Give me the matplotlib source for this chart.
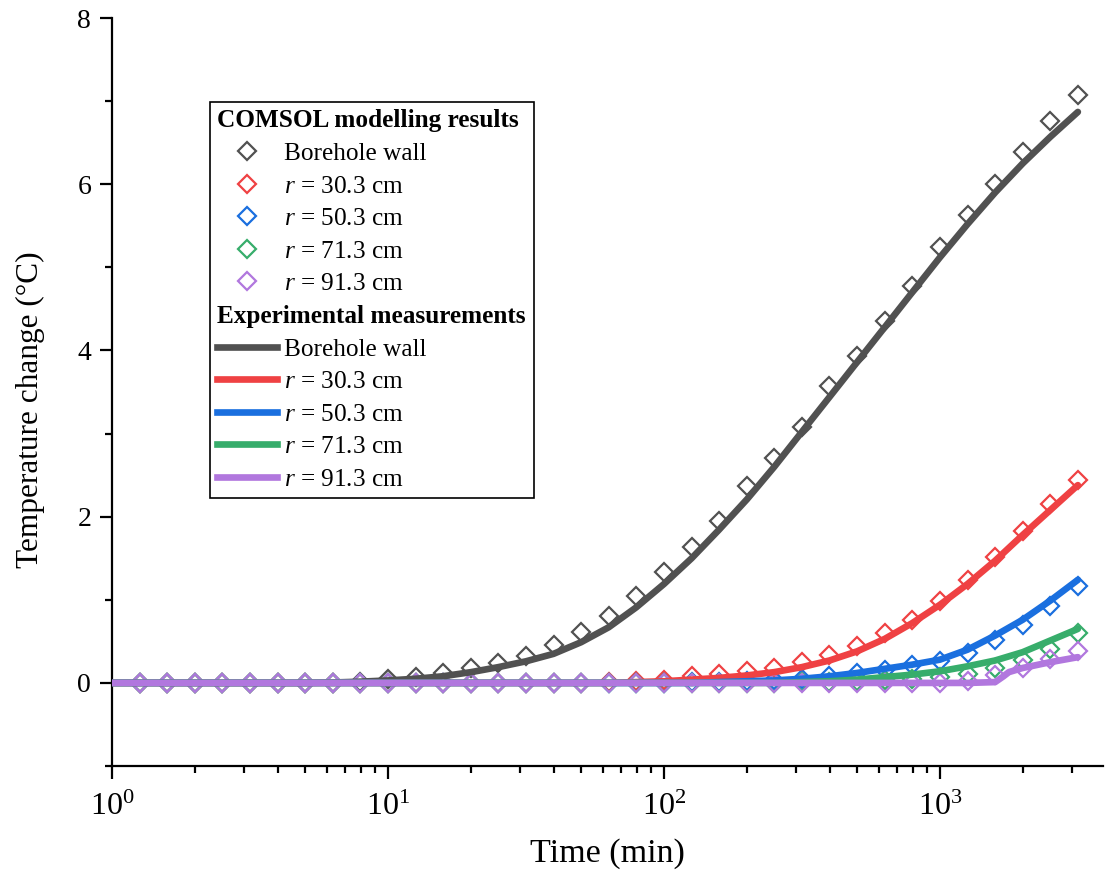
import matplotlib
matplotlib.use("Agg")
import matplotlib.pyplot as plt
from matplotlib.lines import Line2D
from matplotlib.ticker import MultipleLocator, LogLocator, NullFormatter

plt.rcParams['font.family'] = ['Liberation Serif', 'DejaVu Serif']
plt.rcParams['mathtext.fontset'] = 'custom'
plt.rcParams['mathtext.rm'] = 'Liberation Serif'
plt.rcParams['mathtext.it'] = 'Liberation Serif:italic'

# Time grid (min) for the COMSOL points, 0.1 decade spacing
t_model = [1.26, 1.58, 2.0, 2.51, 3.16, 3.98, 5.01, 6.31, 7.94, 10.0,
           12.6, 15.8, 20.0, 25.1, 31.6, 39.8, 50.1, 63.1, 79.4, 100.0,
           126, 158, 200, 251, 316, 398, 501, 631, 794, 1000,
           1259, 1585, 1995, 2512, 3162]

model_wall = [0, 0, 0, 0, 0, 0, 0, 0, 0.01, 0.05,
              0.07, 0.12, 0.18, 0.24, 0.33, 0.46, 0.61, 0.81, 1.05, 1.34,
              1.63, 1.95, 2.37, 2.71, 3.08, 3.57, 3.93, 4.35, 4.78, 5.24,
              5.63, 6.00, 6.39, 6.76, 7.07]
model_r30 = [0, 0, 0, 0, 0, 0, 0, 0, 0, 0,
             0, 0, 0, 0, 0, 0, 0, 0.01, 0.02, 0.04,
             0.08, 0.11, 0.14, 0.18, 0.25, 0.34, 0.45, 0.60, 0.76, 0.98,
             1.24, 1.52, 1.83, 2.15, 2.44]
model_r50 = [0, 0, 0, 0, 0, 0, 0, 0, 0, 0,
             0, 0, 0, 0, 0, 0, 0, 0, 0, 0,
             0.01, 0.01, 0.02, 0.03, 0.05, 0.08, 0.12, 0.16, 0.22, 0.26,
             0.36, 0.52, 0.70, 0.92, 1.17]
model_r71 = [0, 0, 0, 0, 0, 0, 0, 0, 0, 0,
             0, 0, 0, 0, 0, 0, 0, 0, 0, 0,
             0, 0, 0, 0, 0.01, 0.01, 0.02, 0.03, 0.05, 0.07,
             0.11, 0.18, 0.27, 0.41, 0.60]
model_r91 = [0, 0, 0, 0, 0, 0, 0, 0, 0, 0,
             0, 0, 0, 0, 0, 0, 0, 0, 0, 0,
             0, 0, 0, 0, 0, 0, 0, 0, 0, 0,
             0.02, 0.10, 0.18, 0.29, 0.38]

# Measured curves
t_exp = [1.0, 1.26, 1.58, 2.0, 2.51, 3.16, 3.98, 5.01, 6.31, 7.94, 10.0,
         12.6, 15.8, 20.0, 25.1, 31.6, 39.8, 50.1, 63.1, 79.4, 100.0,
         126, 158, 200, 251, 316, 398, 501, 631, 794, 1000,
         1259, 1585, 1995, 2512, 3162]
exp_wall = [0, 0, 0, 0, 0, 0, 0, 0, 0.005, 0.015, 0.03,
            0.05, 0.08, 0.13, 0.19, 0.26, 0.35, 0.49, 0.67, 0.91, 1.19,
            1.50, 1.84, 2.21, 2.60, 3.02, 3.44, 3.86, 4.28, 4.70, 5.12,
            5.52, 5.90, 6.25, 6.57, 6.87]
exp_r30 = [0, 0, 0, 0, 0, 0, 0, 0, 0, 0, 0,
           0, 0, 0, 0, 0, 0, 0, 0, 0.01, 0.02,
           0.04, 0.06, 0.09, 0.13, 0.19, 0.27, 0.38, 0.53, 0.72, 0.94,
           1.19, 1.47, 1.78, 2.08, 2.38]
exp_r50 = [0, 0, 0, 0, 0, 0, 0, 0, 0, 0, 0,
           0, 0, 0, 0, 0, 0, 0, 0, 0, 0,
           0, 0.01, 0.02, 0.03, 0.05, 0.08, 0.12, 0.17, 0.22, 0.28,
           0.40, 0.57, 0.76, 0.99, 1.24]
exp_r71 = [0, 0, 0, 0, 0, 0, 0, 0, 0, 0, 0,
           0, 0, 0, 0, 0, 0, 0, 0, 0, 0,
           0, 0, 0, 0, 0.01, 0.02, 0.04, 0.07, 0.10, 0.14,
           0.20, 0.27, 0.37, 0.51, 0.65]
t_exp_r91 = [1.0, 10.0, 100.0, 1000, 1259, 1585, 1700, 1778, 1995, 2512, 3162]
exp_r91 = [0, 0, 0, 0, 0, 0.01, 0.08, 0.13, 0.18, 0.25, 0.31]

labels = ['Borehole wall', '$r$ = 30.3 cm', '$r$ = 50.3 cm', '$r$ = 71.3 cm', '$r$ = 91.3 cm']
colors = ['#515151', '#EF4143', '#1A6FDF', '#37AD6B', '#B177DE']
model_series = [model_wall, model_r30, model_r50, model_r71, model_r91]
exp_series = [(t_exp, exp_wall), (t_exp, exp_r30), (t_exp, exp_r50),
              (t_exp, exp_r71), (t_exp_r91, exp_r91)]

fig = plt.figure(figsize=(11.05, 8.8), dpi=100)
ax = fig.add_axes([0.1014, 0.1295, 0.8968, 0.85])

for y, c in zip(model_series, colors):
    ax.plot(t_model, y, linestyle='none', marker='D', markersize=9,
            markerfacecolor='none', markeredgecolor=c, markeredgewidth=1.6, zorder=2)
for (t, y), c in zip(exp_series, colors):
    ax.plot(t, y, color=c, linewidth=4.8, solid_capstyle='round', zorder=3)

ax.set_xscale('log')
ax.set_xlim(1, 3900)
ax.set_ylim(-1, 8)
ax.xaxis.set_major_locator(LogLocator(base=10, numticks=10))
ax.xaxis.set_minor_locator(LogLocator(base=10, subs=range(2, 10), numticks=20))
ax.xaxis.set_minor_formatter(NullFormatter())
ax.yaxis.set_major_locator(MultipleLocator(2))
ax.yaxis.set_minor_locator(MultipleLocator(1))

for side in ['top', 'right']:
    ax.spines[side].set_visible(False)
for side in ['left', 'bottom']:
    ax.spines[side].set_linewidth(1.6)

ax.tick_params(which='major', direction='out', length=9, width=1.6, labelsize=20, pad=6)
ax.tick_params(which='minor', direction='out', length=5, width=1.6)
ax.tick_params(axis='x', which='major', labelsize=23, pad=10)

ax.set_xlabel('Time (min)', fontsize=24.5, labelpad=12)
ax.set_ylabel('Temperature change (°C)', fontsize=22.5)
ax.yaxis.set_label_coords(-0.0675, 0.477)

# legend: two bold header rows without handles
blank = Line2D([], [], linestyle='none')
handles = [blank]
handles += [Line2D([], [], linestyle='none', marker='D', markersize=9, markerfacecolor='none',
                   markeredgecolor=c, markeredgewidth=1.6) for c in colors]
handles += [blank]
handles += [Line2D([], [], color=c, linewidth=4.8) for c in colors]
leg_labels = ['COMSOL modelling results'] + labels + ['Experimental measurements'] + labels

leg = ax.legend(handles, leg_labels, loc='upper left', bbox_to_anchor=(0.0987, 0.888),
                borderaxespad=0, fontsize=18.2, handlelength=2.35, handletextpad=0.28,
                labelspacing=0.39, borderpad=0.3, fancybox=False, framealpha=1,
                edgecolor='black')
leg.get_frame().set_linewidth(1.2)
texts = leg.get_texts()
for i in (0, 6):
    texts[i].set_fontweight('bold')

# drop the handle space for the header rows
rows = leg._legend_handle_box.get_children()[0].get_children()
for i in (0, 6):
    rows[i].sep = 0
    rows[i].get_children()[0].width = 0

fig.savefig('out.png', dpi=100)
